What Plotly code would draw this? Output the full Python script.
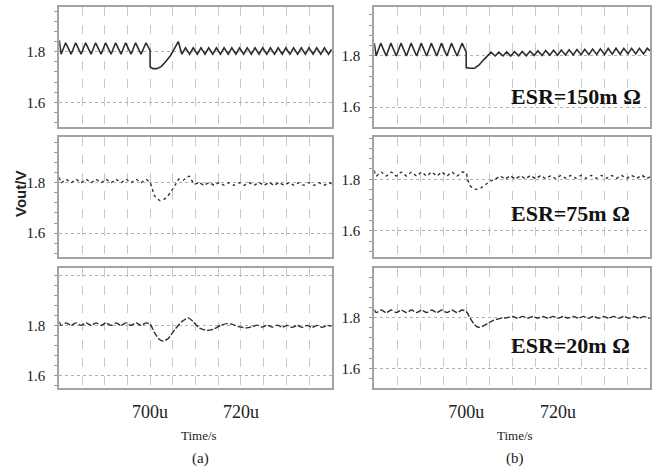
import plotly.graph_objects as go

# ---------------- data (time in us, Vout in V) ----------------
a1_t = [680.0, 680.4, 681.4, 682.6, 683.6, 684.8, 685.8, 687.0, 688.0, 689.2,
        690.2, 691.4, 692.4, 693.6, 694.6, 695.8, 696.8, 698.0, 699.1,
        700.0, 700.0, 700.6, 701.5, 702.5, 703.5, 704.5, 705.3, 706.2,
        707.0, 707.8, 708.7, 709.5, 710.4, 711.2, 712.1, 712.9, 713.8, 714.6,
        715.5, 716.3, 717.2, 718.0, 718.9, 719.7, 720.6, 721.4, 722.3, 723.1,
        724.0, 724.8, 725.7, 726.5, 727.4, 728.2, 729.1, 729.9, 730.8, 731.6,
        732.5, 733.3, 734.2, 735.0, 735.9, 736.7, 737.6, 738.4, 739.3, 740.0]
a1_v = [1.845, 1.79, 1.835, 1.79, 1.835, 1.79, 1.835, 1.79, 1.835, 1.79,
        1.835, 1.79, 1.835, 1.79, 1.835, 1.79, 1.835, 1.79, 1.835,
        1.805, 1.74, 1.733, 1.733, 1.742, 1.762, 1.785, 1.81, 1.84,
        1.79, 1.815, 1.79, 1.815, 1.79, 1.815, 1.79, 1.815, 1.79, 1.815,
        1.79, 1.815, 1.79, 1.815, 1.79, 1.815, 1.79, 1.815, 1.79, 1.815,
        1.79, 1.815, 1.79, 1.815, 1.79, 1.815, 1.79, 1.815, 1.79, 1.815,
        1.79, 1.815, 1.79, 1.815, 1.79, 1.815, 1.79, 1.815, 1.79, 1.81]

b1_t = [680.0, 680.4, 681.4, 682.6, 683.6, 684.8, 685.8, 687.0, 688.0, 689.2,
        690.2, 691.4, 692.4, 693.6, 694.6, 695.8, 696.8, 698.0, 699.1,
        700.0, 700.0, 700.8, 701.8, 702.8, 703.8, 704.6,
        705.4, 706.3, 707.1, 708.0, 708.8, 709.7, 710.5, 711.4, 712.2, 713.1,
        713.9, 714.8, 715.6, 716.5, 717.3, 718.2, 719.0, 719.9, 720.7, 721.6,
        722.4, 723.3, 724.1, 725.0, 725.8, 726.7, 727.5, 728.4, 729.2, 730.1,
        730.9, 731.8, 732.6, 733.5, 734.3, 735.2, 736.0, 736.9, 737.7, 738.6,
        739.4, 740.0]
b1_v = [1.85, 1.80, 1.85, 1.80, 1.85, 1.80, 1.85, 1.80, 1.85, 1.80,
        1.85, 1.80, 1.85, 1.80, 1.85, 1.80, 1.85, 1.80, 1.85,
        1.815, 1.755, 1.752, 1.752, 1.765, 1.785, 1.80,
        1.815, 1.80, 1.815, 1.80, 1.816, 1.80, 1.817, 1.801, 1.818, 1.801,
        1.819, 1.802, 1.82, 1.802, 1.821, 1.803, 1.822, 1.803, 1.823, 1.804,
        1.824, 1.804, 1.825, 1.805, 1.826, 1.805, 1.827, 1.806, 1.828, 1.806,
        1.829, 1.807, 1.83, 1.807, 1.83, 1.808, 1.83, 1.808, 1.83, 1.808,
        1.83, 1.82]

a2_t = [680.0, 680.4, 681.5, 682.6, 683.7, 684.8, 685.9, 687.0, 688.1, 689.2,
        690.3, 691.4, 692.5, 693.6, 694.7, 695.8, 696.9, 698.0, 699.1,
        700.0, 700.4, 701.0, 702.2, 703.4, 704.5, 705.5, 706.4, 707.3, 708.6,
        709.7, 710.8, 711.9, 713.0, 714.1, 715.2, 716.3, 717.4, 718.5, 719.6,
        720.7, 721.8, 722.9, 724.0, 725.1, 726.2, 727.3, 728.4, 729.5, 730.6,
        731.7, 732.8, 733.9, 735.0, 736.1, 737.2, 738.3, 739.4, 740.0]
a2_v = [1.822, 1.80, 1.813, 1.80, 1.813, 1.80, 1.813, 1.80, 1.813, 1.80,
        1.813, 1.80, 1.813, 1.80, 1.813, 1.80, 1.813, 1.80, 1.813,
        1.80, 1.78, 1.748, 1.729, 1.738, 1.762, 1.79, 1.815, 1.81, 1.826,
        1.794, 1.80, 1.79, 1.80, 1.79, 1.80, 1.79, 1.80, 1.79, 1.80,
        1.79, 1.80, 1.79, 1.80, 1.79, 1.80, 1.79, 1.80, 1.79, 1.80,
        1.79, 1.80, 1.79, 1.80, 1.79, 1.80, 1.79, 1.80, 1.795]

b2_t = [680.0, 680.4, 681.5, 682.6, 683.7, 684.8, 685.9, 687.0, 688.1, 689.2,
        690.3, 691.4, 692.5, 693.6, 694.7, 695.8, 696.9, 698.0, 699.1,
        700.0, 700.3, 701.0, 702.3, 703.3, 704.3, 705.3, 706.3,
        707.4, 708.5, 709.6, 710.7, 711.8, 712.9, 714.0, 715.1, 716.2, 717.3,
        718.4, 719.5, 720.6, 721.7, 722.8, 723.9, 725.0, 726.1, 727.2, 728.3,
        729.4, 730.5, 731.6, 732.7, 733.8, 734.9, 736.0, 737.1, 738.2, 739.3,
        740.0]
b2_v = [1.835, 1.813, 1.828, 1.813, 1.828, 1.813, 1.828, 1.813, 1.828, 1.813,
        1.828, 1.813, 1.828, 1.813, 1.828, 1.813, 1.828, 1.813, 1.828,
        1.825, 1.80, 1.772, 1.761, 1.768, 1.781, 1.793, 1.80,
        1.812, 1.802, 1.813, 1.802, 1.813, 1.803, 1.814, 1.803, 1.814, 1.803,
        1.814, 1.803, 1.815, 1.804, 1.815, 1.804, 1.815, 1.804, 1.815, 1.804,
        1.815, 1.804, 1.815, 1.804, 1.815, 1.804, 1.815, 1.804, 1.815, 1.804,
        1.81]

a3_t = [680.0, 680.4, 681.5, 682.6, 683.7, 684.8, 685.9, 687.0, 688.1, 689.2,
        690.3, 691.4, 692.5, 693.6, 694.7, 695.8, 696.9, 698.0, 699.1,
        700.0, 701.0, 702.0, 702.9, 704.0, 705.5, 707.0, 708.4, 709.5, 710.8,
        712.5, 714.0, 715.5, 716.9, 718.0, 719.5, 721.3, 722.5,
        723.6, 724.7, 725.8, 726.9, 728.0, 729.1, 730.2, 731.3, 732.4, 733.5,
        734.6, 735.7, 736.8, 737.9, 739.0, 740.0]
a3_v = [1.815, 1.80, 1.81, 1.80, 1.81, 1.80, 1.81, 1.80, 1.81, 1.80,
        1.81, 1.80, 1.81, 1.80, 1.81, 1.80, 1.81, 1.80, 1.81,
        1.805, 1.77, 1.745, 1.738, 1.748, 1.785, 1.815, 1.83, 1.815, 1.79,
        1.78, 1.785, 1.80, 1.807, 1.805, 1.795, 1.79, 1.795,
        1.801, 1.793, 1.801, 1.793, 1.801, 1.793, 1.80, 1.792, 1.80, 1.792,
        1.80, 1.792, 1.80, 1.792, 1.80, 1.796]

b3_t = [680.0, 680.4, 681.5, 682.6, 683.7, 684.8, 685.9, 687.0, 688.1, 689.2,
        690.3, 691.4, 692.5, 693.6, 694.7, 695.8, 696.9, 698.0, 699.1,
        700.0, 700.8, 701.7, 702.6, 703.6, 704.8, 706.0, 707.5, 709.0,
        710.1, 711.2, 712.3, 713.4, 714.5, 715.6, 716.7, 717.8, 718.9, 720.0,
        721.1, 722.2, 723.3, 724.4, 725.5, 726.6, 727.7, 728.8, 729.9, 731.0,
        732.1, 733.2, 734.3, 735.4, 736.5, 737.6, 738.7, 739.8, 740.0]
b3_v = [1.832, 1.82, 1.83, 1.82, 1.83, 1.82, 1.83, 1.82, 1.83, 1.82,
        1.83, 1.82, 1.83, 1.82, 1.83, 1.82, 1.83, 1.82, 1.83,
        1.825, 1.80, 1.775, 1.762, 1.766, 1.778, 1.79, 1.797, 1.80,
        1.805, 1.798, 1.805, 1.798, 1.805, 1.798, 1.805, 1.798, 1.805, 1.798,
        1.805, 1.798, 1.805, 1.798, 1.805, 1.798, 1.805, 1.798, 1.805, 1.798,
        1.805, 1.798, 1.805, 1.798, 1.805, 1.798, 1.805, 1.798, 1.80]

y_ranges = [[1.504, 1.975], [1.524, 1.99],
            [1.507, 1.98], [1.50, 1.963],
            [1.55, 2.027], [1.521, 1.995]]
x_range = [680, 740]
x_grid = [685, 690, 695, 700, 705, 710, 715, 720, 725, 730, 735]
x_labels = ["", "", "", "700u", "", "", "", "720u", "", "", ""]
y_ticks = [1.6, 1.8, 2.0]
y_labels = ["1.6", "1.8", ""]
esr_labels = ["ESR=150m Ω", "ESR=75m Ω", "ESR=20m Ω"]

# ---------------- figure ----------------
W, H = 663, 472
def px(v): return v / W
def py(v): return 1 - v / H

x_dom = [[px(59.3), px(331.7)], [px(374.3), px(650)]]
y_dom = [[py(126.7), py(7.3)], [py(256.6), py(137.3)], [py(388.3), py(268.3)]]

series = [(a1_t, a1_v), (b1_t, b1_v), (a2_t, a2_v), (b2_t, b2_v), (a3_t, a3_v), (b3_t, b3_v)]
dashes = ["solid", "solid", "dot", "dot", "6px,2px", "6px,2px"]
shapes_ = ["linear", "linear", "spline", "spline", "spline", "spline"]

fig = go.Figure()
serif = "Liberation Serif"
for i, (t, v) in enumerate(series):
    assert len(t) == len(v), (i, len(t), len(v))
    n = i + 1
    row, col = i // 2, i % 2
    fig.add_trace(go.Scatter(
        x=t, y=v, mode="lines", xaxis=f"x{n}", yaxis=f"y{n}",
        line=dict(color="#2e2e2e", width=1.6 if i < 2 else 1.4, dash=dashes[i], shape=shapes_[i],
                  smoothing=0.6),
        showlegend=False, hoverinfo="skip"))
    xa = dict(domain=x_dom[col], range=x_range, anchor=f"y{n}",
              tickvals=x_grid, ticktext=x_labels, showticklabels=(row == 2),
              ticks="", showgrid=True, gridcolor="#c8c8c8", griddash="dash", gridwidth=1,
              showline=True, mirror=True, linecolor="#a3a3a3", linewidth=2,
              zeroline=False, tickfont=dict(family=serif, size=18, color="#222"),
              ticklabelstandoff=6)
    ya = dict(domain=y_dom[row], range=y_ranges[i], anchor=f"x{n}",
              tickvals=y_ticks, ticktext=y_labels,
              ticks="outside", ticklen=3, tickcolor="#999",
              minor=dict(tickvals=[1.52, 1.56, 1.64, 1.68, 1.72, 1.76, 1.84, 1.88, 1.92, 1.96, 2.0],
                         ticks="outside", ticklen=3, tickcolor="#999", showgrid=False),
              showgrid=True, gridcolor="#b0b0b0", griddash="dot", gridwidth=1,
              showline=True, mirror=True, linecolor="#a3a3a3", linewidth=2,
              zeroline=False, tickfont=dict(family=serif, size=15, color="#1a1a1a"),
              ticklabelstandoff=6)
    key = "" if n == 1 else str(n)
    fig.update_layout(**{f"xaxis{key}": xa, f"yaxis{key}": ya})

ann = []
for r, lab in enumerate(esr_labels):
    yc = [96.7, 213, 345][r]
    ann.append(dict(x=px(509), y=py(yc), xref="paper", yref="paper", xanchor="left", yanchor="middle",
                    text=f"<b>{lab}</b>", showarrow=False,
                    font=dict(family=serif, size=22, color="#111")))
for xc, lab in [(199, "Time/s"), (515, "Time/s")]:
    ann.append(dict(x=px(xc), y=py(435), xref="paper", yref="paper", xanchor="center", yanchor="middle",
                    text=lab, showarrow=False, font=dict(family=serif, size=13, color="#222")))
for xc, lab in [(201, "(a)"), (515, "(b)")]:
    ann.append(dict(x=px(xc), y=py(458), xref="paper", yref="paper", xanchor="center", yanchor="middle",
                    text=lab, showarrow=False, font=dict(family=serif, size=15, color="#222")))
ann.append(dict(x=px(20), y=py(194), xref="paper", yref="paper", xanchor="center", yanchor="middle",
                text="<b>Vout/V</b>", textangle=-90, showarrow=False,
                font=dict(family="Liberation Sans", size=15, color="#222")))

fig.update_layout(width=W, height=H, margin=dict(l=0, r=0, t=0, b=0),
                  paper_bgcolor="white", plot_bgcolor="white", annotations=ann)
fig.write_html("out.html")
